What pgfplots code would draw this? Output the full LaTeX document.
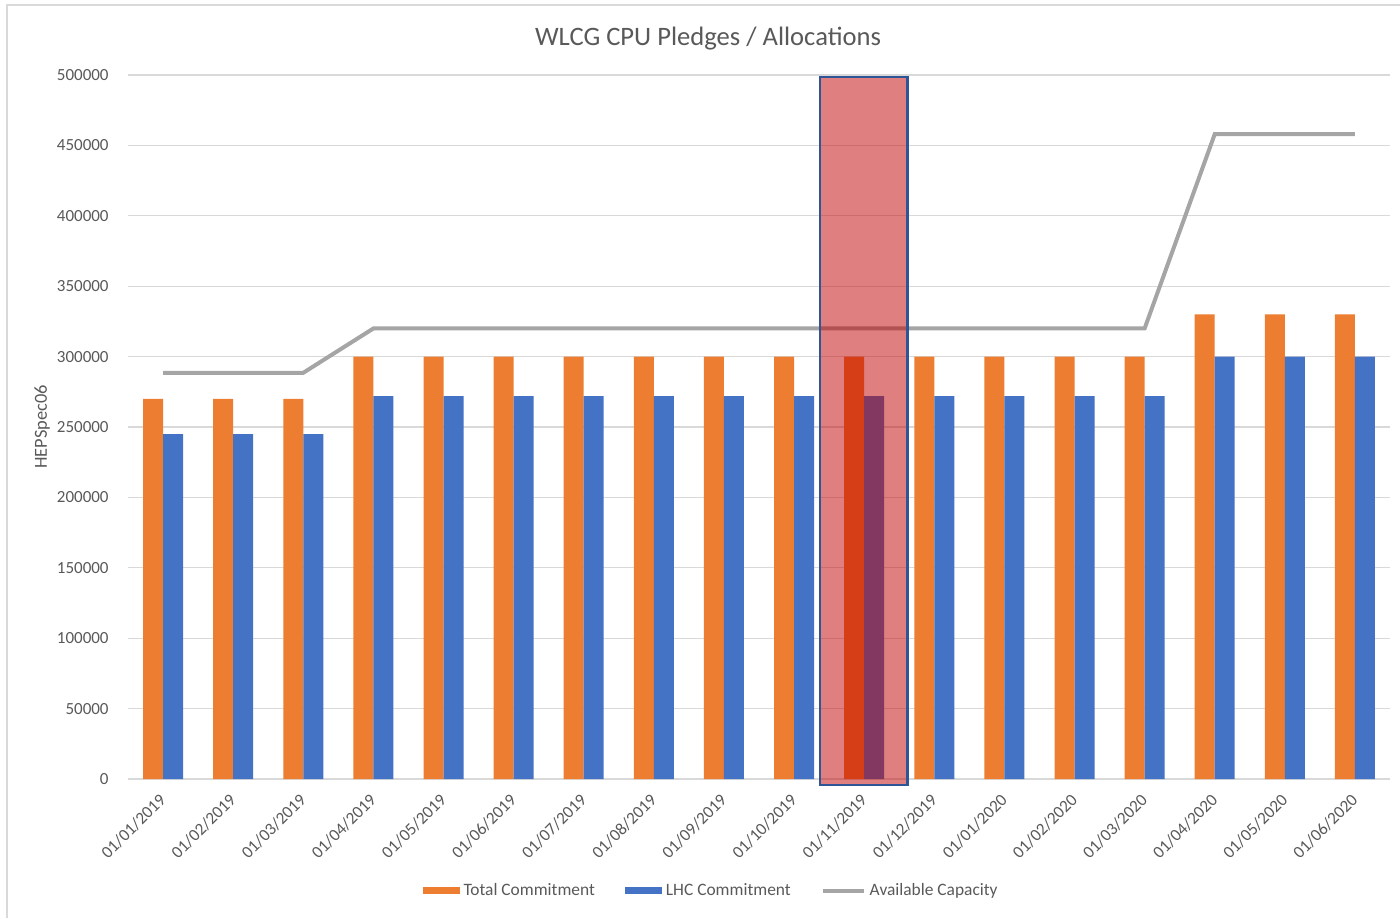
\documentclass[border=0pt]{standalone}
\usepackage{fontspec}
\setmainfont{Carlito}
\usepackage{pgfplots}
\pgfplotsset{compat=1.18}
\definecolor{torange}{HTML}{ED7D31}
\definecolor{lblue}{HTML}{4472C4}
\definecolor{cgray}{HTML}{A5A5A5}
\definecolor{gridc}{HTML}{D9D9D9}
\definecolor{txt}{HTML}{595959}
\definecolor{hred}{HTML}{C00000}
\definecolor{hblue}{HTML}{2F5597}
\begin{document}
\begin{tikzpicture}
\path[use as bounding box] (0,0) rectangle (700pt,459pt);
\draw[gridc, line width=0.7pt] (3.5pt,0pt) -- (3.5pt,456.5pt) -- (700pt,456.5pt);
\node[text=txt, font=\fontsize{13.3}{15}\selectfont] at (354pt,439.5pt) {WLCG CPU Pledges / Allocations};
\begin{axis}[
  at={(64pt,69.5pt)}, anchor=south west,
  width=631pt, height=352pt, scale only axis,
  xmin=-0.5, xmax=17.5, ymin=0, ymax=500000,
  clip=false,
  ybar=0pt, bar width=10pt,
  axis line style={draw=none},
  ymajorgrids, grid style={gridc, line width=0.6pt},
  major tick length=0pt,
  ytick={0,50000,...,500000},
  scaled y ticks=false,
  yticklabel style={/pgf/number format/fixed, /pgf/number format/set thousands separator={}, /pgf/number format/assume math mode=true, font=\fontsize{8.5}{10}\selectfont, text=txt, inner sep=0pt, anchor=east},
  yticklabel shift=9.5pt,
  xtick={0,...,17},
  xticklabels={01/01/2019,01/02/2019,01/03/2019,01/04/2019,01/05/2019,01/06/2019,01/07/2019,01/08/2019,01/09/2019,01/10/2019,01/11/2019,01/12/2019,01/01/2020,01/02/2020,01/03/2020,01/04/2020,01/05/2020,01/06/2020},
  xticklabel style={rotate=45, anchor=east, inner sep=0pt, font=\fontsize{8.6}{10}\selectfont, text=txt},
  xticklabel shift=9pt,
  ylabel={HEPSpec06},
  ylabel style={at={(axis description cs:-0.068,0.5)}, anchor=center, font=\fontsize{9.2}{10}\selectfont, text=txt},
  legend style={at={(axis description cs:0.4628,-0.159)}, anchor=center, draw=none, fill=none, legend columns=3, font=\fontsize{8.7}{10}\selectfont, text=txt, /tikz/every even column/.append style={column sep=13pt}},
]
\addplot[fill=torange, draw=none, legend image code/.code={\fill[torange] (0pt,-1.75pt) rectangle (18.5pt,1.75pt);}] coordinates {
(0,270000) (1,270000) (2,270000) (3,300000) (4,300000) (5,300000) (6,300000) (7,300000) (8,300000) (9,300000) (10,300000) (11,300000) (12,300000) (13,300000) (14,300000) (15,330000) (16,330000) (17,330000)};
\addplot[fill=lblue, draw=none, legend image code/.code={\fill[lblue] (0pt,-1.75pt) rectangle (18.5pt,1.75pt);}] coordinates {
(0,245000) (1,245000) (2,245000) (3,272000) (4,272000) (5,272000) (6,272000) (7,272000) (8,272000) (9,272000) (10,272000) (11,272000) (12,272000) (13,272000) (14,272000) (15,300000) (16,300000) (17,300000)};
\addplot[sharp plot, cgray, line width=2pt, no markers, legend image code/.code={\draw[cgray, line width=2pt] (0pt,0pt) -- (20.5pt,0pt);}] coordinates {
(0,288500) (1,288500) (2,288500) (3,320000) (4,320000) (5,320000) (6,320000) (7,320000) (8,320000) (9,320000) (10,320000) (11,320000) (12,320000) (13,320000) (14,320000) (15,458000) (16,458000) (17,458000)};
\legend{Total Commitment, LHC Commitment, Available Capacity}
\draw[hblue, line width=1.2pt, fill=hred, fill opacity=0.5] (axis cs:9.37,498600) rectangle (axis cs:10.62,-4300);
\end{axis}
\end{tikzpicture}
\end{document}
